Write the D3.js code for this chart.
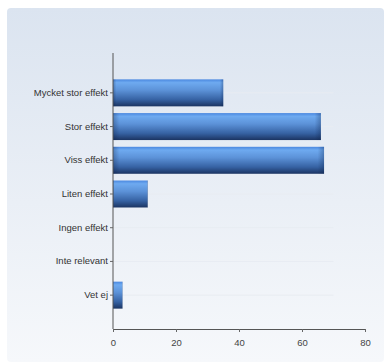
<!DOCTYPE html>
<html><head><meta charset="utf-8">
<script src="https://cdn.jsdelivr.net/npm/d3@7"></script>
<style>html,body{margin:0;padding:0;background:#fff;}svg{display:block;}</style>
</head><body>
<svg id="c" width="385" height="362"></svg>
<script>
const categories = ["Mycket stor effekt","Stor effekt","Viss effekt","Liten effekt","Ingen effekt","Inte relevant","Vet ej"];
const values = [35, 66, 67, 11, 0, 0, 3];
const xTicks = [0, 20, 40, 60, 80];

const svg = d3.select("#c");
const defs = svg.append("defs");
const bg = defs.append("linearGradient").attr("id","bg").attr("x1",0).attr("y1",0).attr("x2",0).attr("y2",1);
bg.append("stop").attr("offset","0%").attr("stop-color","#dbe4f0");
bg.append("stop").attr("offset","55%").attr("stop-color","#eaeff6");
bg.append("stop").attr("offset","100%").attr("stop-color","#f6f8fb");
const bar = defs.append("linearGradient").attr("id","bar").attr("x1",0).attr("y1",0).attr("x2",0).attr("y2",1);
bar.append("stop").attr("offset","0%").attr("stop-color","#4a88e0");
bar.append("stop").attr("offset","12%").attr("stop-color","#6eaaf0");
bar.append("stop").attr("offset","40%").attr("stop-color","#5c92d8");
bar.append("stop").attr("offset","75%").attr("stop-color","#3662a3");
bar.append("stop").attr("offset","100%").attr("stop-color","#1b3462");
const edge = defs.append("linearGradient").attr("id","edge").attr("x1",0).attr("y1",0).attr("x2",1).attr("y2",0);
edge.append("stop").attr("offset","0%").attr("stop-color","#0a1e44").attr("stop-opacity",0.3);
edge.append("stop").attr("offset","3%").attr("stop-color","#0a1e44").attr("stop-opacity",0);
edge.append("stop").attr("offset","97%").attr("stop-color","#0a1e44").attr("stop-opacity",0);
edge.append("stop").attr("offset","100%").attr("stop-color","#0a1e44").attr("stop-opacity",0.3);

svg.append("rect").attr("x",7).attr("y",8).attr("width",377).attr("height",354).attr("rx",4).attr("fill","url(#bg)");

const x = d3.scaleLinear().domain([0,80]).range([113,365]);
const y = d3.scaleBand().domain(categories).range([76,312]).paddingInner(0.2).paddingOuter(0.1);

svg.append("g").selectAll("line").data(categories).join("line")
  .attr("x1", x(0)).attr("x2", x(70))
  .attr("y1", d => y(d)+y.bandwidth()/2).attr("y2", d => y(d)+y.bandwidth()/2)
  .attr("stroke","#e8ecf2").attr("stroke-width",1);

const bars = svg.append("g");
bars.selectAll("rect.b").data(categories).join("rect").attr("class","b")
  .attr("x", x(0)).attr("y", d => y(d))
  .attr("width", (d,i) => x(values[i]) - x(0)).attr("height", y.bandwidth())
  .attr("fill","url(#bar)");
bars.selectAll("rect.e").data(categories).join("rect").attr("class","e")
  .attr("x", x(0)).attr("y", d => y(d))
  .attr("width", (d,i) => x(values[i]) - x(0)).attr("height", y.bandwidth())
  .attr("fill","url(#edge)");

const yAxis = svg.append("g").attr("transform",`translate(${x(0)},0)`)
  .call(d3.axisLeft(y).tickSize(3).tickPadding(2).tickSizeOuter(0));
yAxis.select(".domain").attr("d", `M0,53V329`).attr("stroke","#555");
yAxis.selectAll(".tick line").attr("stroke","#666");
yAxis.selectAll("text").attr("font-family","Liberation Sans, Arial, sans-serif").attr("font-size","9.5px").attr("fill","#333");

const xAxis = svg.append("g").attr("transform","translate(0,329)")
  .call(d3.axisBottom(x).tickValues(xTicks).tickSize(3).tickPadding(7).tickSizeOuter(0));
xAxis.select(".domain").attr("stroke","#555");
xAxis.selectAll(".tick line").attr("stroke","#666");
xAxis.selectAll("text").attr("font-family","Liberation Sans, Arial, sans-serif").attr("font-size","9.5px").attr("fill","#444");
</script>
</body></html>
